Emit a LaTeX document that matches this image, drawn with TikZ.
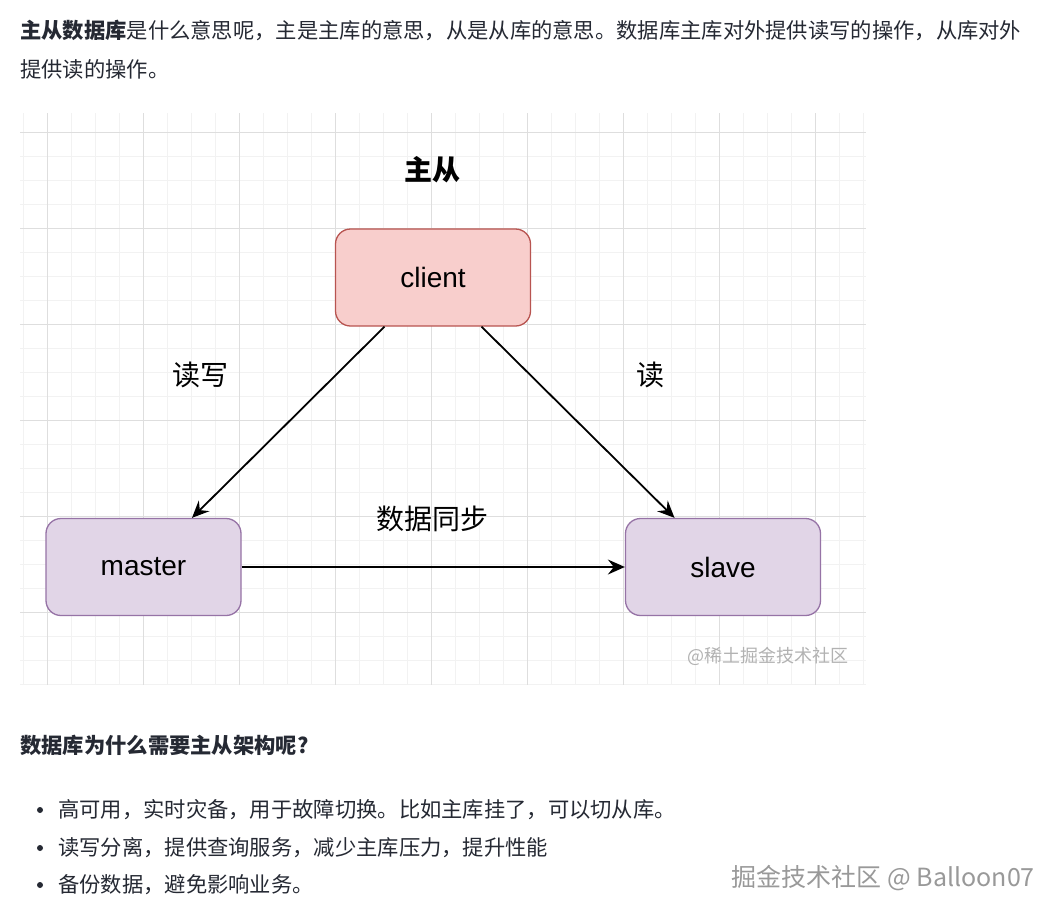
\documentclass[tikz,border=0pt]{standalone}
\usepackage{fontspec}
\setmainfont{Liberation Sans}
\newfontfamily\cjk{Noto Sans CJK SC}
\usetikzlibrary{arrows.meta}

\definecolor{clientfill}{HTML}{F8CECC}
\definecolor{clientline}{HTML}{B85450}
\definecolor{dbfill}{HTML}{E1D5E7}
\definecolor{dbline}{HTML}{9673A6}
\definecolor{bodytext}{HTML}{252933}

\begin{document}
\begin{tikzpicture}[x=1pt,y=-1pt,
    minorline/.style={draw=black!5,line width=0.8pt},
    majorline/.style={draw=black!13,line width=1pt},
    box/.style={draw,rounded corners=15pt,line width=1.3pt,minimum width=195pt,minimum height=97pt,font=\fontsize{28}{30}\selectfont},
    lbl/.style={font=\cjk\fontsize{28}{30}\selectfont},
    txt/.style={anchor=west,inner sep=0pt,text=bodytext,font=\cjk\fontsize{21.3}{24}\selectfont},
    dot/.style={circle,fill=bodytext,inner sep=0pt,minimum size=6pt},
    arr/.style={-{Stealth[length=17pt,width=15pt,inset=6pt]},line width=1.8pt}]
    \useasboundingbox[fill=white] (0,0) rectangle (1060,916);

    % text above the diagram
    \node[txt] (p1) at (20,30) {{\bfseries 主从数据库}是什么意思呢，主是主库的意思，从是从库的意思。数据库主库对外提供读写的操作，从库对外};
    \node[txt] (p2) at (20,69) {提供读的操作。};

    % grid
    \foreach \x in {23,47,...,863} \draw[minorline] (\x,113) -- (\x,685);
    \foreach \y in {132,156,...,684} \draw[minorline] (20,\y) -- (866,\y);
    \foreach \x in {47,143,...,815} \draw[majorline] (\x,113) -- (\x,685);
    \foreach \y in {132,228,...,612} \draw[majorline] (20,\y) -- (866,\y);

    \node[lbl,font=\cjk\bfseries\fontsize{28}{30}\selectfont] (title) at (432,170) {主从};

    \node[box,fill=clientfill,draw=clientline] (client) at (433,277.5) {client};
    \node[box,fill=dbfill,draw=dbline] (master) at (143.5,567) {master};
    \node[box,fill=dbfill,draw=dbline] (slave) at (723,567) {slave};

    \draw[arr] ([xshift=-48.5pt]client.south) -- ([xshift=48.5pt]master.north);
    \draw[arr] ([xshift=48.5pt]client.south) -- ([xshift=-48.5pt]slave.north);
    \draw[arr] (master.east) -- (slave.west);

    \node[lbl] (rw) at (200,375) {读写};
    \node[lbl] (r) at (650,375) {读};
    \node[lbl] (sync) at (432,519) {数据同步};

    \node[font=\cjk\fontsize{18}{20}\selectfont,text=black!30] (mark) at (768,656) {@稀土掘金技术社区};

    % text below the diagram
    \node[txt,font=\cjk\bfseries\fontsize{21.3}{24}\selectfont] (why) at (20,745) {数据库为什么需要主从架构呢?};

    \node[dot] (d1) at (40,810) {};
    \node[txt] (b1) at (58,810) {高可用，实时灾备，用于故障切换。比如主库挂了，可以切从库。};
    \node[dot] (d2) at (40,848) {};
    \node[txt] (b2) at (58,848) {读写分离，提供查询服务，减少主库压力，提升性能};
    \node[dot] (d3) at (40,885) {};
    \node[txt] (b3) at (58,885) {备份数据，避免影响业务。};

    \node[anchor=east,inner sep=0pt,text=black!40,font=\cjk\fontsize{25}{27}\selectfont] (credit) at (1035,878) {掘金技术社区 @ Balloon07};
\end{tikzpicture}
\end{document}
